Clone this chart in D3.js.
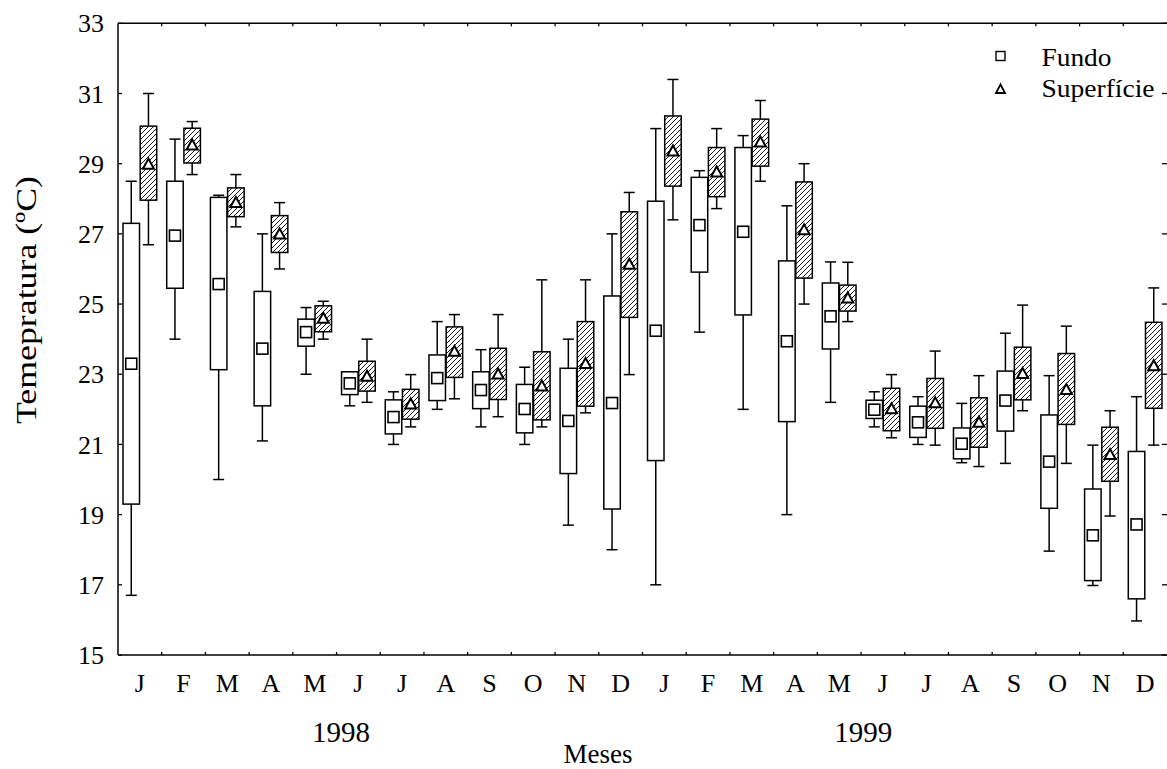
<!DOCTYPE html>
<html>
<head>
<meta charset="utf-8">
<script src="https://cdn.jsdelivr.net/npm/d3@7"></script>
<style>
  html, body { margin: 0; padding: 0; background: #fff; }
  svg { display: block; }
</style>
</head>
<body>
<svg id="chart" width="1167" height="769" font-family="'Liberation Serif', 'Times New Roman', serif"></svg>
<script>
const monthLabels = ["J","F","M","A","M","J","J","A","S","O","N","D",
                     "J","F","M","A","M","J","J","A","S","O","N","D"];
const yearLabels = ["1998", "1999"];
const yearPositions = [5.1, 17.05];
const yTicks = [15, 17, 19, 21, 23, 25, 27, 29, 31, 33];

// Fundo (bottom): whisker min, box low, mean, box high, whisker max
const fundoMin  = [16.7, 24.0, 20.0, 21.1, 23.0, 22.1, 21.0, 22.0, 21.5, 21.0, 18.7, 18.0,
                   17.0, 24.2, 22.0, 19.0, 22.2, 21.5, 21.0, 20.48, 20.46, 17.96, 16.98, 15.97];
const fundoLow  = [19.3, 25.45, 23.13, 22.1, 23.8, 22.42, 21.3, 22.25, 22.02, 21.33, 20.17, 19.16,
                   20.54, 25.91, 24.69, 21.65, 23.72, 21.74, 21.2, 20.59, 21.38, 19.18, 17.12, 16.6];
const fundoMean = [23.3, 26.95, 25.57, 23.73, 24.2, 22.74, 21.78, 22.89, 22.55, 22.01, 21.67, 22.18,
                   24.24, 27.25, 27.06, 23.94, 24.65, 21.99, 21.63, 21.02, 22.25, 20.51, 18.41, 18.72];
const fundoHigh = [27.3, 28.5, 28.04, 25.36, 24.57, 23.07, 22.27, 23.55, 23.07, 22.71, 23.17, 25.23,
                   27.93, 28.61, 29.46, 26.23, 25.6, 22.26, 22.09, 21.47, 23.09, 21.84, 19.73, 20.8];
const fundoMax  = [28.5, 29.7, 28.1, 27.0, 24.9, 23.07, 22.5, 24.5, 23.7, 23.2, 24.0, 27.0,
                   30.0, 28.8, 29.8, 27.8, 26.2, 22.5, 22.36, 22.17, 24.17, 22.96, 20.98, 22.36];

// Superfície (surface)
const supMin  = [26.69, 28.69, 27.2, 26.0, 24.0, 22.2, 21.5, 22.3, 21.79, 21.5, 21.9, 22.99,
                 27.4, 27.72, 28.5, 25.0, 24.5, 21.19, 20.98, 20.37, 21.96, 20.46, 18.96, 20.98];
const supLow  = [27.96, 29.02, 27.49, 26.47, 24.21, 22.52, 21.72, 22.91, 22.28, 21.7, 22.09, 24.62,
                 28.36, 28.06, 28.93, 25.74, 24.8, 21.39, 21.46, 20.92, 22.27, 21.57, 19.95, 22.03];
const supMean = [28.97, 29.52, 27.88, 26.98, 24.58, 22.93, 22.14, 23.64, 22.99, 22.65, 23.29, 26.12,
                 29.35, 28.75, 29.6, 27.1, 25.16, 22.0, 22.17, 21.62, 23.01, 22.55, 20.7, 23.23];
const supHigh = [30.07, 30.01, 28.31, 27.52, 24.95, 23.37, 22.57, 24.35, 23.74, 23.64, 24.5, 27.63,
                 30.36, 29.46, 30.27, 28.48, 25.54, 22.6, 22.88, 22.33, 23.77, 23.59, 21.49, 24.48];
const supMax  = [31.0, 30.2, 28.69, 27.89, 25.08, 24.0, 22.99, 24.7, 24.7, 25.69, 25.69, 28.18,
                 31.4, 30.0, 30.8, 29.0, 26.19, 22.99, 23.66, 22.96, 24.97, 24.37, 21.96, 25.46];

const seriesNames = ["Fundo", "Superfície"];

(function () {
const svg = d3.select("#chart");
const pLeft = 118, pRight = 1167, pTop = 23.3, pBottom = 655;

const idx = d3.range(monthLabels.length);
const x = d3.scaleBand().domain(idx).range([pLeft, pRight]).padding(0);
const y = d3.scaleLinear().domain([15, 33]).range([pBottom, pTop]);

const defs = svg.append("defs");
const pat = defs.append("pattern")
  .attr("id", "hatch").attr("patternUnits", "userSpaceOnUse")
  .attr("width", 5).attr("height", 5);
pat.append("rect").attr("width", 5).attr("height", 5).attr("fill", "#fff");
pat.append("path").attr("d", "M-1,1 L1,-1 M0,5 L5,0 M4,6 L6,4")
  .attr("stroke", "#000").attr("stroke-width", 0.9);

const boxW = 16.5, off = 8.6, capW = 11;
const series = [
  {name: seriesNames[0], mn: fundoMin, lo: fundoLow, me: fundoMean, hi: fundoHigh, mx: fundoMax, dx: -off, fill: "#fff", marker: "square"},
  {name: seriesNames[1], mn: supMin, lo: supLow, me: supMean, hi: supHigh, mx: supMax, dx: off, fill: "url(#hatch)", marker: "triangle"}
];

const g = svg.append("g");
series.forEach(s => {
  const grp = g.append("g");
  idx.forEach(i => {
    const cx = x(i) + x.bandwidth() / 2 + s.dx;
    const ln = (x1, x2, y1, y2) => grp.append("line").attr("x1", x1).attr("x2", x2).attr("y1", y1).attr("y2", y2)
      .attr("stroke", "#000").attr("stroke-width", 1.5);
    ln(cx, cx, y(s.hi[i]), y(s.mx[i]));
    ln(cx, cx, y(s.lo[i]), y(s.mn[i]));
    ln(cx - capW / 2, cx + capW / 2, y(s.mx[i]), y(s.mx[i]));
    ln(cx - capW / 2, cx + capW / 2, y(s.mn[i]), y(s.mn[i]));
    grp.append("rect").attr("x", cx - boxW / 2).attr("width", boxW)
      .attr("y", y(s.hi[i])).attr("height", Math.max(0.5, y(s.lo[i]) - y(s.hi[i])))
      .attr("fill", s.fill).attr("stroke", "#000").attr("stroke-width", 1.5);
    const my = y(s.me[i]);
    if (s.marker === "square") {
      grp.append("rect").attr("x", cx - 5.5).attr("y", my - 5.5).attr("width", 11).attr("height", 11)
        .attr("fill", "#fff").attr("stroke", "#000").attr("stroke-width", 1.6);
    } else {
      grp.append("path").attr("d", `M${cx},${my - 6} L${cx + 5.5},${my + 4} L${cx - 5.5},${my + 4} Z`)
        .attr("fill", "#fff").attr("stroke", "#000").attr("stroke-width", 2);
    }
  });
});

const axisG = svg.append("g");
const L = (x1, x2, y1, y2, w) => axisG.append("line").attr("x1", x1).attr("x2", x2).attr("y1", y1).attr("y2", y2)
  .attr("stroke", "#000").attr("stroke-width", w);
L(pLeft, pLeft, pTop, pBottom, 1.5);
L(pLeft, pRight, pBottom, pBottom, 1.5);
L(pLeft, pRight, pTop, pTop, 1.5);

yTicks.forEach(t => {
  L(pLeft, pLeft + 4, y(t), y(t), 1.3);
  L(pRight - 5, pRight, y(t), y(t), 1.3);
  axisG.append("text").attr("x", 104).attr("y", y(t)).attr("dy", "0.35em")
    .attr("text-anchor", "end").attr("font-size", 26).text(t);
});

idx.slice(1).forEach(i => {
  L(x(i), x(i), pBottom, pBottom - 3, 1.3);
  L(x(i), x(i), pTop, pTop + 3, 1.3);
});

idx.forEach(i => {
  axisG.append("text").attr("x", x(i) + x.bandwidth() / 2).attr("y", 692)
    .attr("text-anchor", "middle").attr("font-size", 26).text(monthLabels[i]);
});

yearLabels.forEach((yr, k) => {
  axisG.append("text").attr("x", pLeft + x.step() * yearPositions[k]).attr("y", 742)
    .attr("text-anchor", "middle").attr("font-size", 29).text(yr);
});

axisG.append("text").attr("x", 598).attr("y", 763).attr("text-anchor", "middle").attr("font-size", 27).text("Meses");
axisG.append("text").attr("transform", "translate(35.5,300) rotate(-90)")
  .attr("text-anchor", "middle").attr("font-size", 30)
  .attr("textLength", 248).attr("lengthAdjust", "spacingAndGlyphs")
  .text("Temepratura (ºC)");

const lg = svg.append("g");
lg.append("rect").attr("x", 996).attr("y", 51.5).attr("width", 9).attr("height", 9)
  .attr("fill", "#fff").attr("stroke", "#000").attr("stroke-width", 1.4);
lg.append("path").attr("d", "M1000.5,84.5 L1005,93 L996,93 Z")
  .attr("fill", "#fff").attr("stroke", "#000").attr("stroke-width", 1.8);
lg.append("text").attr("x", 1041.5).attr("y", 66).attr("font-size", 25)
  .attr("textLength", 70).attr("lengthAdjust", "spacingAndGlyphs").text(seriesNames[0]);
lg.append("text").attr("x", 1041.5).attr("y", 97).attr("font-size", 25)
  .attr("textLength", 113).attr("lengthAdjust", "spacingAndGlyphs").text(seriesNames[1]);
})();
</script>
</body>
</html>
